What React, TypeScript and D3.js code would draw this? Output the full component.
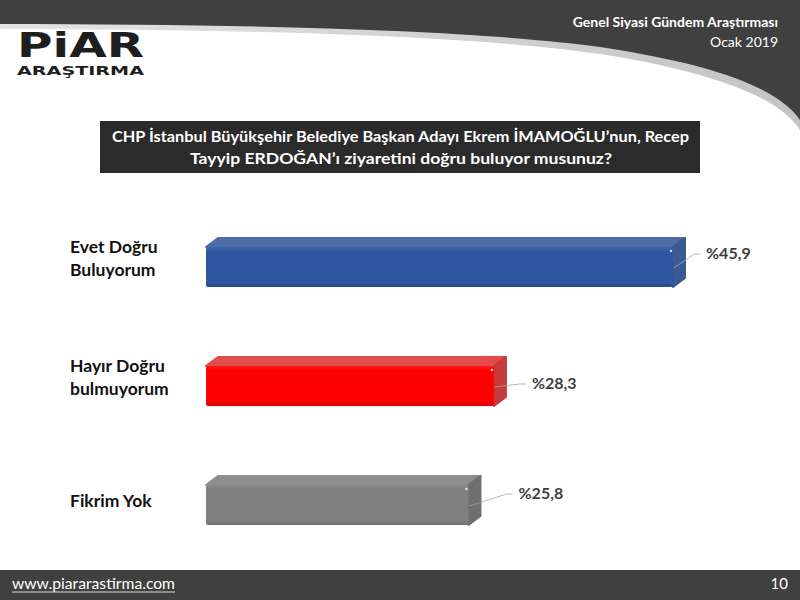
import * as d3 from "d3";

const categories = [["Evet Doğru", "Buluyorum"], ["Hayır Doğru", "bulmuyorum"], ["Fikrim Yok"]];
const values = [45.9, 28.3, 25.8];
const valueLabels = ["%45,9", "%28,3", "%25,8"];

// hand placed label offsets from the bar end, as on the slide
const labelNudge = [
  [33, -8],
  [38, 3],
  [50, -6],
];

const palette = [
  { front: "#2f57a0", top: "#4f6ea8", side: "#3b5a94", hi: "#3d66b0", lo: "#284b8a" },
  { front: "#ff0000", top: "#e24b4b", side: "#c53a3a", hi: "#ff1a1a", lo: "#e00000" },
  { front: "#808080", top: "#8e8e8e", side: "#6f6f6f", hi: "#888888", lo: "#707070" },
];

const W = 800;
const H = 600;
const font = "Lato, 'Open Sans', sans-serif";

export default function App() {
  const x = d3.scaleLinear().domain([0, 50]).range([206, 714.7]);
  const y = d3.scalePoint<number>().domain(values.map((_, i) => i)).range([267, 505]);
  const barH = 40;
  const dx = 12;
  const dy = 9;

  return (
    <svg
      width={W}
      height={H}
      style={{ position: "absolute", left: 0, top: 0, background: "#fff" }}
      fontFamily={font}
    >
      <defs>
        {palette.map((c, i) => (
          <linearGradient key={i} id={`front${i}`} x1="0" y1="0" x2="0" y2="1">
            <stop offset="0%" stopColor={c.hi} />
            <stop offset="12%" stopColor={c.front} />
            <stop offset="88%" stopColor={c.front} />
            <stop offset="100%" stopColor={c.lo} />
          </linearGradient>
        ))}
        <linearGradient id="band" x1="0" y1="0" x2="1" y2="0">
          <stop offset="0%" stopColor="#e3e3e3" />
          <stop offset="100%" stopColor="#c4c4c4" />
        </linearGradient>
      </defs>

      {/* header band */}
      <path
        d="M0,0 H800 V130 C780,99 720,73 600,54 C500,39 300,29 0,29 Z"
        fill="url(#band)"
      />
      <path
        d="M0,0 H800 V120 C780,90 720,65 600,47 C500,33 300,24 0,24 Z"
        fill="#404040"
      />
      <text x={778} y={27} textAnchor="end" fill="#fff" fontSize={14} fontWeight="bold">
        Genel Siyasi Gündem Araştırması
      </text>
      <text x={778} y={47} textAnchor="end" fill="#fff" fontSize={14}>
        Ocak 2019
      </text>

      {/* logo */}
      <text
        x={17}
        y={57}
        fontFamily="'DejaVu Sans', sans-serif"
        fontWeight="bold"
        fontSize={34}
        fill="#1e1e1e"
        textLength={127}
        lengthAdjust="spacingAndGlyphs"
      >
        PiAR
      </text>
      <text
        x={17}
        y={75}
        fontFamily="'DejaVu Sans', sans-serif"
        fontWeight="bold"
        fontSize={12}
        fill="#1e1e1e"
        textLength={127}
        lengthAdjust="spacingAndGlyphs"
      >
        ARAŞTIRMA
      </text>

      {/* question box */}
      <rect x={100} y={121} width={600} height={52} fill="#2b2b2b" />
      <text
        x={112}
        y={142}
        fill="#fff"
        fontSize={15.5}
        fontWeight="bold"
        textLength={577}
        lengthAdjust="spacingAndGlyphs"
      >
        CHP İstanbul Büyükşehir Belediye Başkan Adayı Ekrem İMAMOĞLU’nun, Recep
      </text>
      <text
        x={190}
        y={164}
        fill="#fff"
        fontSize={15.5}
        fontWeight="bold"
        textLength={422}
        lengthAdjust="spacingAndGlyphs"
      >
        Tayyip ERDOĞAN’ı ziyaretini doğru buluyor musunuz?
      </text>

      {/* bars */}
      {values.map((v, i) => {
        const c = palette[i];
        const x0 = x(0);
        const x1 = x(v);
        const cy = y(i)!;
        const top = cy - barH / 2;
        const bot = cy + barH / 2;
        const topFace = `M${x0},${top} L${x0 + dx},${top - dy} L${x1 + dx},${top - dy} L${x1},${top} Z`;
        const sideFace = `M${x1},${top} L${x1 + dx},${top - dy} L${x1 + dx},${bot - dy} L${x1},${bot} Z`;
        const [nx, ny] = labelNudge[i];
        const lx = x1 + nx;
        const ly = cy + ny;
        return (
          <g key={i}>
            <path d={topFace} fill={c.top} stroke={c.top} strokeWidth={2} strokeLinejoin="round" />
            <path d={sideFace} fill={c.side} stroke={c.side} strokeWidth={2} strokeLinejoin="round" />
            <rect x={x0} y={top} width={x1 - x0} height={barH} rx={2} fill={`url(#front${i})`} />
            <circle cx={x1 - 2} cy={top + 4} r={1.2} fill="#fff" opacity={0.8} />
            <polyline
              points={`${x1 + 1},${cy + 1} ${lx - 12},${ly - 5} ${lx - 6},${ly - 5}`}
              fill="none"
              stroke="#a6a6a6"
              strokeWidth={0.8}
            />
            <text x={lx} y={ly} fontSize={16} fontWeight="bold" fill="#404040">
              {valueLabels[i]}
            </text>
          </g>
        );
      })}

      {/* category labels */}
      {categories.map((lines, i) => {
        const cy = y(i)!;
        const first = lines.length === 1 ? cy + 2 : cy - 14;
        return (
          <text key={i} x={70} fontSize={17.5} fontWeight="bold" fill="#111">
            {lines.map((l, j) => (
              <tspan key={j} x={70} y={first + j * 23}>
                {l}
              </tspan>
            ))}
          </text>
        );
      })}

      {/* footer */}
      <rect x={0} y={570} width={800} height={30} fill="#404040" />
      <text x={12} y={589} fill="#fff" fontSize={16} textLength={163} lengthAdjust="spacingAndGlyphs">
        www.piararastirma.com
      </text>
      <line x1={12} x2={175} y1={592} y2={592} stroke="#d9d9d9" strokeWidth={1} />
      <text x={788} y={589} fill="#fff" fontSize={15} textAnchor="end">
        10
      </text>
    </svg>
  );
}
